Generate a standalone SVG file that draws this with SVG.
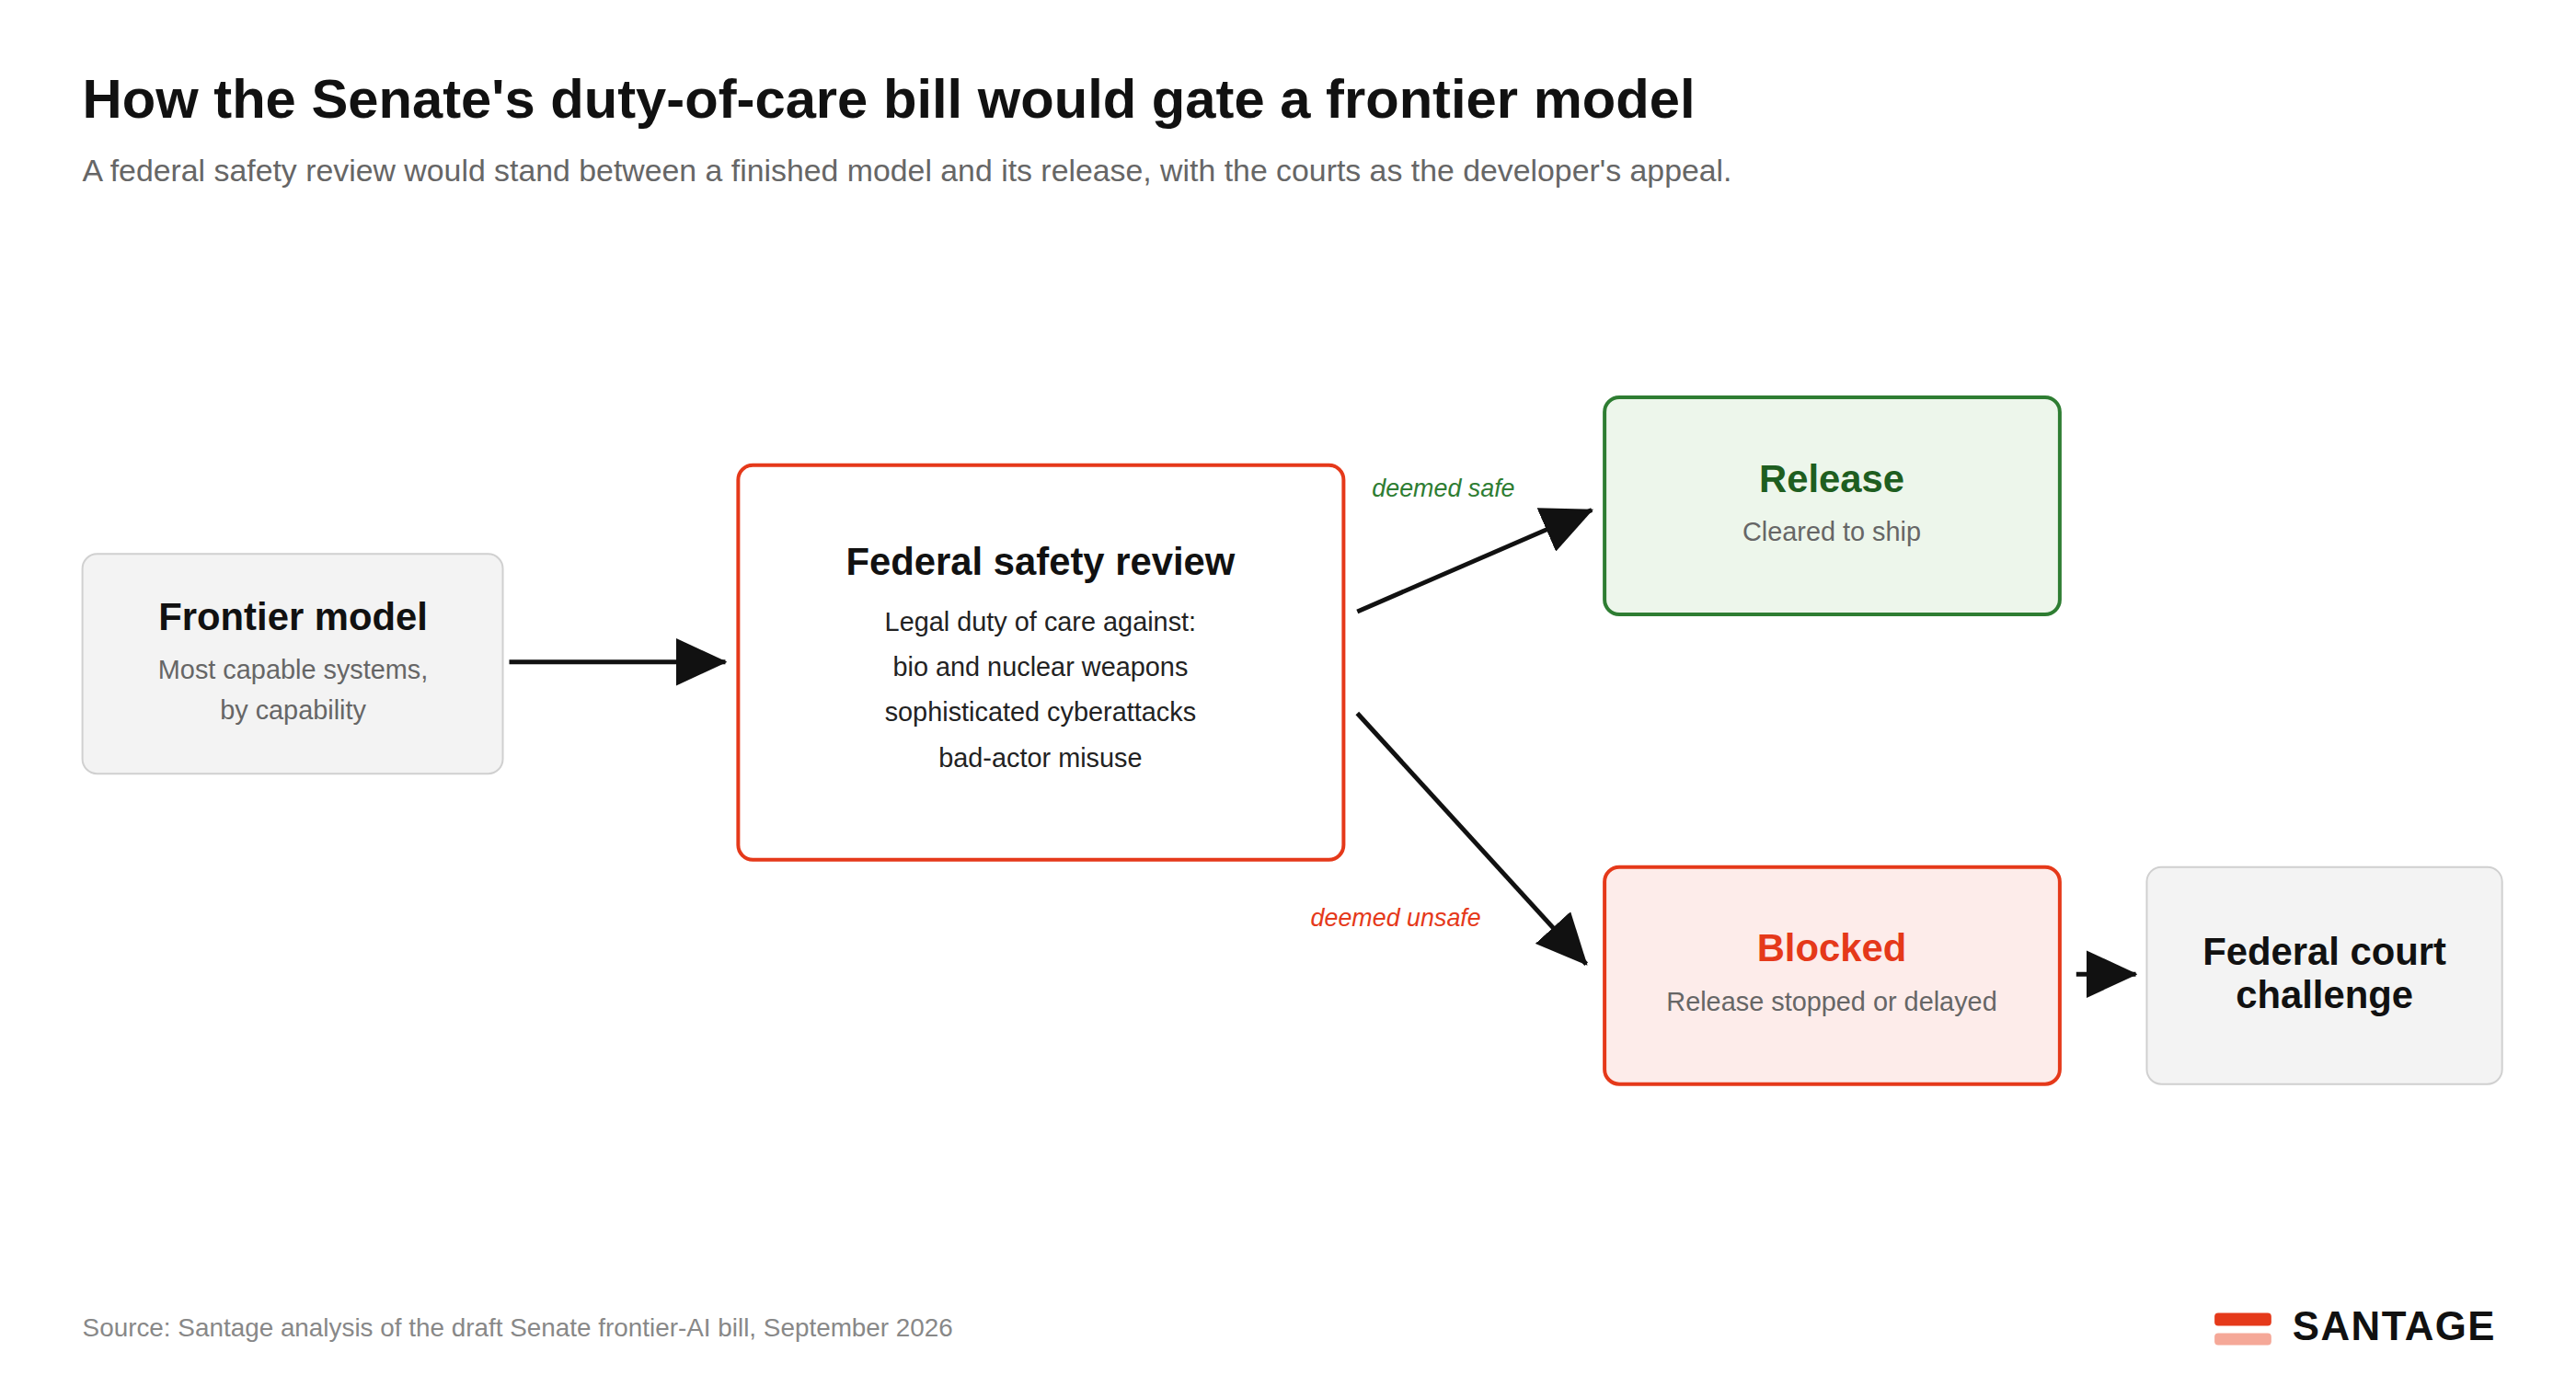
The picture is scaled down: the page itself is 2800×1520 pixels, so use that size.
<svg xmlns="http://www.w3.org/2000/svg" width="2800" height="1520" viewBox="0 0 2800 1520">
<style>
text{font-family:"Liberation Sans",Arial,sans-serif}
.t{font-weight:bold;fill:#111;text-anchor:middle;font-size:42px}
.s{fill:#666;text-anchor:middle;font-size:29px}
.b{fill:#222;text-anchor:middle;font-size:29px}
.c{stroke:#111;stroke-width:5;fill:none;marker-end:url(#ah)}
.l{font-style:italic;font-size:27px;text-anchor:middle}
</style>
<defs><marker id="ah" markerUnits="userSpaceOnUse" markerWidth="56" markerHeight="52" refX="54" refY="26" orient="auto"><path d="M0,0 L56,26 L0,52 Z" fill="#111"/></marker></defs>
<rect width="2800" height="1520" fill="#fff"/>
<g transform="scale(0.9955)">
<text x="90" y="129" font-size="60" font-weight="bold" fill="#111">How the Senate's duty-of-care bill would gate a frontier model</text>
<text x="90" y="198" font-size="34" fill="#666">A federal safety review would stand between a finished model and its release, with the courts as the developer's appeal.</text>
<g id="frontier"><rect x="90" y="605" width="459" height="240" rx="16" fill="#f3f3f3" stroke="#d0d0d0" stroke-width="2"/>
<text class="t" x="320" y="688">Frontier model</text><text class="s" x="320" y="741">Most capable systems,</text><text class="s" x="320" y="786">by capability</text></g>
<g id="review"><rect x="806" y="508" width="661" height="431" rx="16" fill="#fff" stroke="#e5391a" stroke-width="4"/>
<text class="t" x="1136" y="628">Federal safety review</text>
<text class="b" x="1136" y="689">Legal duty of care against:</text><text class="b" x="1136" y="738">bio and nuclear weapons</text><text class="b" x="1136" y="788">sophisticated cyberattacks</text><text class="b" x="1136" y="838">bad-actor misuse</text></g>
<g id="release"><rect x="1752" y="434" width="497" height="237" rx="16" fill="#edf6eb" stroke="#2e7d32" stroke-width="4"/>
<text class="t" x="2000" y="537" style="fill:#1e5e20">Release</text><text class="s" x="2000" y="591">Cleared to ship</text></g>
<g id="blocked"><rect x="1752" y="947" width="497" height="237" rx="16" fill="#fdecea" stroke="#e5391a" stroke-width="4"/>
<text class="t" x="2000" y="1050" style="fill:#e5391a">Blocked</text><text class="s" x="2000" y="1104">Release stopped or delayed</text></g>
<g id="court"><rect x="2344" y="947" width="388" height="237" rx="16" fill="#f3f3f3" stroke="#d0d0d0" stroke-width="2"/>
<text class="t" x="2538" y="1054">Federal court</text><text class="t" x="2538" y="1101">challenge</text></g>
<g id="connectors">
<line class="c" x1="556" y1="723" x2="792" y2="723"/>
<line class="c" x1="1482" y1="668" x2="1738" y2="557"/>
<line class="c" x1="1482" y1="779" x2="1732" y2="1053"/>
<line class="c" x1="2267" y1="1064" x2="2332" y2="1064"/>
<text class="l" x="1576" y="542" fill="#2e7d32">deemed safe</text>
<text class="l" x="1524" y="1012" fill="#e5391a">deemed unsafe</text>
</g>
<text x="90" y="1460" font-size="28" fill="#888">Source: Santage analysis of the draft Senate frontier-AI bill, September 2026</text>
<g id="logo"><rect x="2418" y="1434" width="62" height="14" rx="4" fill="#e5391a"/><rect x="2418" y="1456" width="62" height="13" rx="4" fill="#f5a898"/>
<text x="2503" y="1464" font-size="44" font-weight="bold" fill="#111" letter-spacing="1.5">SANTAGE</text></g>
</g>
</svg>
